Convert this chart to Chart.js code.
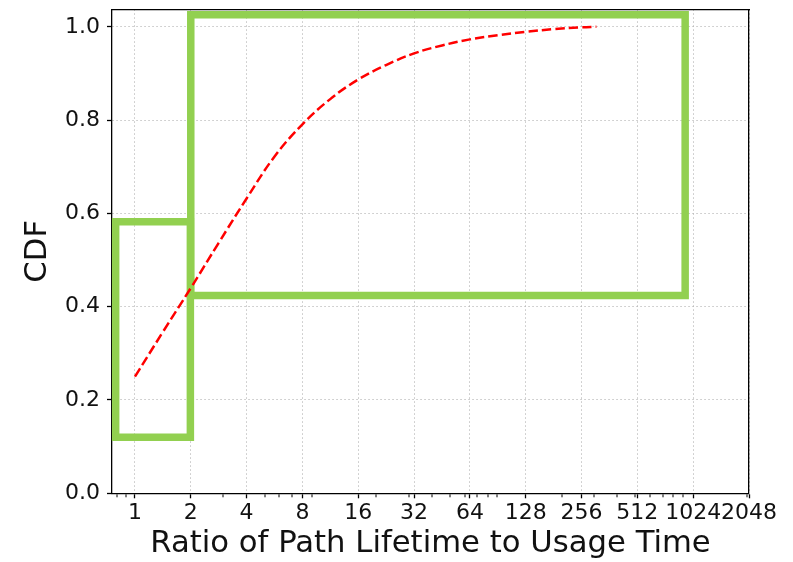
<!DOCTYPE html>
<html>
<head>
<meta charset="utf-8">
<script src="https://cdn.jsdelivr.net/npm/chart.js@4"></script>
<style>
html,body{margin:0;padding:0;background:#fff;}
#wrap{width:793px;height:562px;position:relative;}
</style>
</head>
<body>
<div id="wrap"><canvas id="c"></canvas></div>
<script>
// ---- data ----
const cdfX = [1, 1.41, 2, 2.83, 4, 5.66, 8, 11.3, 16, 22.6, 32, 45.3, 64, 90.5, 128, 181, 256, 308];
const cdfY = [0.25, 0.345, 0.44, 0.537, 0.632, 0.722, 0.791, 0.845, 0.887, 0.918, 0.943, 0.96, 0.973, 0.982, 0.989, 0.995, 0.999, 1.0];

const boxAX = [0.787, 1.99, 1.99, 0.787, 0.787];
const boxAY = [0.582, 0.582, 0.120, 0.120, 0.582];
const boxBX = [2.0, 927, 927, 2.0, 2.0];
const boxBY = [1.026, 1.026, 0.424, 0.424, 1.026];

const xMajorTicks = [1, 2, 4, 8, 16, 32, 64, 128, 256, 512, 1024, 2048];
const xMinorTicks = [0.8, 0.9, 3, 5, 6, 7, 9, 20, 30, 40, 50, 60, 70, 80, 90,
                     200, 300, 400, 500, 600, 700, 800, 900, 2000];
const yTicks = [0.0, 0.2, 0.4, 0.6, 0.8, 1.0];
const xMin = 0.752, xMax = 2048;
const yMin = 0, yMax = 1.0375;

const xTitle = 'Ratio of Path Lifetime to Usage Time';
const yTitle = 'CDF';

// ---- styling ----
const FONT = 'DejaVu Sans';
const TXT = '#111';
const GRID = 'rgba(176,176,176,0.75)';
const GREEN = '#92d050';

const pts = (xs, ys) => xs.map((x, i) => ({x: x, y: ys[i]}));
const isMajor = (ctx) => ctx.tick && xMajorTicks.includes(ctx.tick.value);

new Chart(document.getElementById('c'), {
  type: 'line',
  data: {
    datasets: [
      {
        data: pts(cdfX, cdfY),
        borderColor: '#ff0000',
        borderWidth: 2.5,
        borderDash: [9.5, 4],
        pointRadius: 0,
        tension: 0.4,
        fill: false
      },
      {
        data: pts(boxAX, boxAY),
        borderColor: GREEN,
        borderWidth: 7.5,
        borderCapStyle: 'square',
        borderJoinStyle: 'miter',
        pointRadius: 0,
        tension: 0,
        fill: false,
        clip: false
      },
      {
        data: pts(boxBX, boxBY),
        borderColor: GREEN,
        borderWidth: 7.5,
        borderCapStyle: 'square',
        borderJoinStyle: 'miter',
        pointRadius: 0,
        tension: 0,
        fill: false,
        clip: false
      }
    ]
  },
  options: {
    responsive: true,
    maintainAspectRatio: false,
    animation: false,
    devicePixelRatio: 1,
    layout: {padding: {top: 9.3, right: 44, bottom: 0, left: 0}},
    plugins: {legend: {display: false}, tooltip: {enabled: false}},
    scales: {
      x: {
        type: 'logarithmic',
        position: 'bottom',
        min: xMin, max: xMax,
        afterBuildTicks: (s) => {
          const all = xMajorTicks.map(v => ({value: v, major: true}))
            .concat(xMinorTicks.map(v => ({value: v, major: false})));
          all.sort((a, b) => a.value - b.value);
          s.ticks = all;
        },
        afterFit: (s) => { s.height = 68.7; },
        ticks: {
          autoSkip: false, maxRotation: 0, minRotation: 0,
          padding: 2,
          color: TXT,
          font: {family: FONT, size: 22},
          callback: (v) => xMajorTicks.includes(v) ? String(v) : ''
        },
        grid: {
          color: (ctx) => isMajor(ctx) ? GRID : 'rgba(0,0,0,0)',
          lineWidth: (ctx) => isMajor(ctx) ? 1 : 0,
          tickColor: '#000',
          tickWidth: (ctx) => isMajor(ctx) ? 1.3 : 1,
          tickLength: 5,
          tickBorderDash: (ctx) => isMajor(ctx) ? [] : [3, 20]
        },
        border: {display: true, color: '#000', width: 1.3, dash: [1.5, 2.5]},
        title: {
          display: true, text: xTitle, color: TXT,
          font: {family: FONT, size: 30.7},
          padding: {top: 0, bottom: 0}
        }
      },
      y: {
        type: 'linear',
        position: 'left',
        min: yMin, max: yMax,
        afterBuildTicks: (s) => { s.ticks = yTicks.map(v => ({value: v})); },
        afterFit: (s) => { s.width = 112; },
        ticks: {
          padding: 7,
          color: TXT,
          font: {family: FONT, size: 22, lineHeight: 0.1},
          callback: (v) => Number(v).toFixed(1)
        },
        grid: {
          color: GRID, lineWidth: 1,
          tickColor: '#000', tickWidth: 1.3, tickLength: 5
        },
        border: {display: true, color: '#000', width: 1.3, dash: [1.5, 2.5]},
        title: {
          display: true, text: yTitle, color: TXT,
          font: {family: FONT, size: 30.7},
          padding: {top: 19.7, bottom: 0}
        }
      },
      xTop: {
        type: 'logarithmic', position: 'top', min: xMin, max: xMax,
        ticks: {display: false},
        grid: {drawOnChartArea: false, drawTicks: false},
        border: {display: true, color: '#000', width: 1.3}
      },
      yRight: {
        type: 'linear', position: 'right', min: yMin, max: yMax,
        ticks: {display: false},
        grid: {drawOnChartArea: false, drawTicks: false},
        border: {display: true, color: '#000', width: 1.3}
      }
    }
  }
});
</script>
</body>
</html>
